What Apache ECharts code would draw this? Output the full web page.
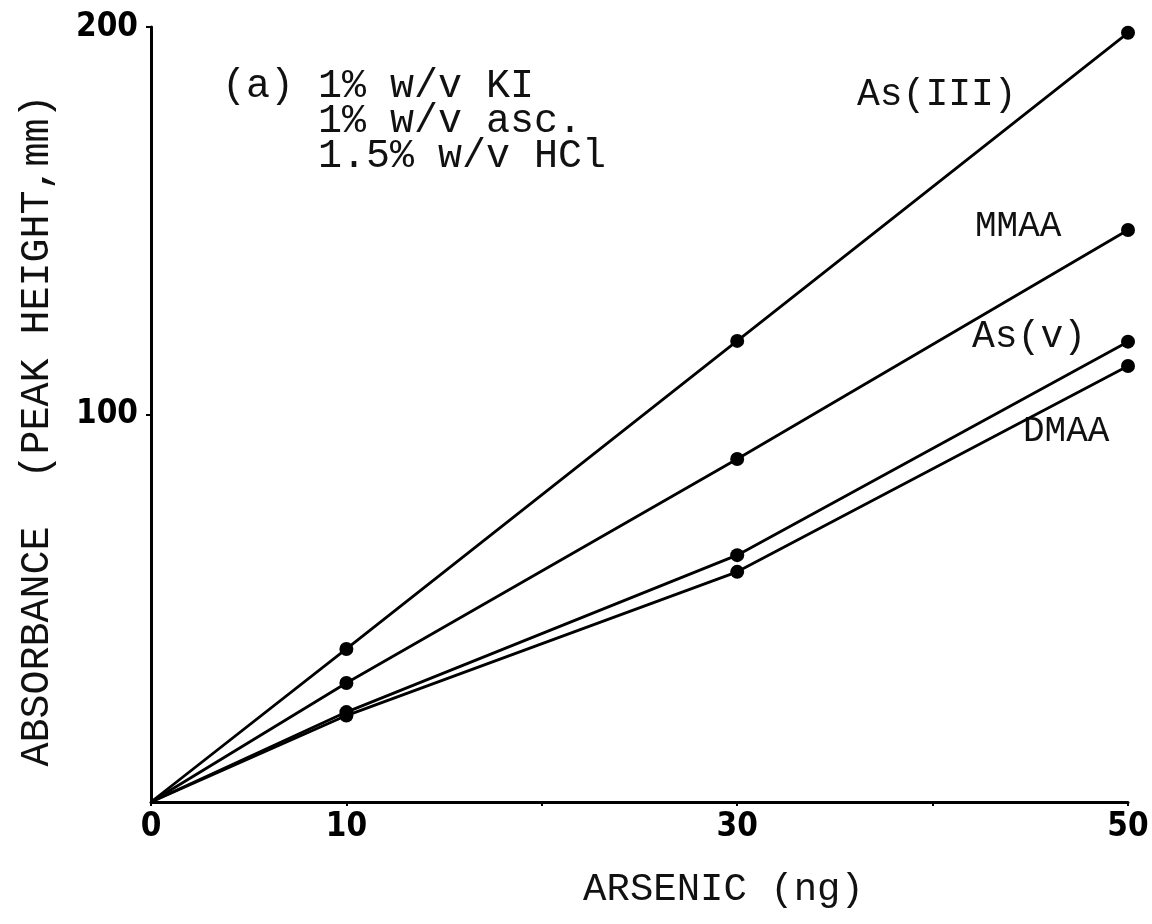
<!DOCTYPE html>
<html>
<head>
<meta charset="utf-8">
<script src="https://cdn.jsdelivr.net/npm/echarts@6/dist/echarts.min.js"></script>
<style>
html,body{margin:0;padding:0;background:#fff;}
#chart{width:1152px;height:924px;}
</style>
</head>
<body>
<div id="chart"></div>
<script>
// ---- data ----
const xValues = [0, 10, 30, 50];
const seriesNames = ['As(III)', 'MMAA', 'As(v)', 'DMAA'];
const asIII = [0, 39.5, 119, 198.5];
const mmaa  = [0, 30.7, 88.5, 147.6];
const asV   = [0, 23.2, 63.7, 118.8];
const dmaa  = [0, 22.3, 59.4, 112.5];
const xTickLabels = [0, 10, 30, 50];
const yTickLabels = [100, 200];
const xTitle = 'ARSENIC (ng)';
const yTitle = 'ABSORBANCE  (PEAK HEIGHT,mm)';
const noteLines = ['(a) 1% w/v KI', '    1% w/v asc.', '    1.5% w/v HCl'];

const mono = "'Liberation Mono', 'DejaVu Sans Mono', monospace";
const narrow = "'Liberation Sans Narrow', 'DejaVu Sans Condensed', 'Liberation Sans', sans-serif";

function pairs(ys) { return xValues.map((x, i) => [x, ys[i]]); }
const allSeries = [asIII, mmaa, asV, dmaa];

const chart = echarts.init(document.getElementById('chart'), null, {renderer: 'canvas'});
const option = {
  animation: false,
  backgroundColor: '#ffffff',
  grid: {left: 151, right: 24, top: 27, bottom: 122, containLabel: false},
  xAxis: {
    type: 'value', min: 0, max: 50, interval: 10,
    name: xTitle, nameLocation: 'middle', nameGap: 68,
    nameTextStyle: {fontFamily: mono, fontSize: 39, color: '#111', padding: [0, 0, 0, 168]},
    axisLine: {show: true, onZero: false, lineStyle: {color: '#000', width: 3}},
    axisTick: {show: true, length: 4, lineStyle: {color: '#000', width: 2}},
    axisLabel: {
      margin: 9, color: '#000', fontFamily: narrow, fontWeight: 'bold', fontSize: 33,
      formatter: v => xTickLabels.indexOf(v) >= 0 ? String(v) : ''
    },
    splitLine: {show: false}
  },
  yAxis: {
    type: 'value', min: 0, max: 200, interval: 100,
    name: yTitle, nameLocation: 'middle', nameGap: 94, nameRotate: 90,
    nameTextStyle: {fontFamily: mono, fontSize: 40, color: '#111', padding: [0, 32, 0, 0]},
    axisLine: {show: true, lineStyle: {color: '#000', width: 3}},
    axisTick: {show: true, length: 5, lineStyle: {color: '#000', width: 2}},
    axisLabel: {
      margin: 13, color: '#000', fontFamily: narrow, fontWeight: 'bold', fontSize: 33,
      showMinLabel: false,
      formatter: v => yTickLabels.indexOf(v) >= 0 ? String(v) : ''
    },
    splitLine: {show: false}
  },
  series: allSeries.map((ys, i) => ({
    name: seriesNames[i],
    type: 'line',
    data: pairs(ys),
    symbol: 'circle',
    symbolSize: (v) => v[0] === 0 ? 0 : 14,
    showAllSymbol: true,
    itemStyle: {color: '#000'},
    lineStyle: {color: '#000', width: 2.8},
    z: 3
  })),
  graphic: [
    {type: 'text', left: 857, top: 76, style: {text: seriesNames[0], font: '38px ' + mono, fill: '#111'}},
    {type: 'text', left: 975, top: 208, style: {text: seriesNames[1], font: '36px ' + mono, fill: '#111'}},
    {type: 'text', left: 972, top: 318, style: {text: seriesNames[2], font: '38px ' + mono, fill: '#111'}},
    {type: 'text', left: 1023, top: 413, style: {text: seriesNames[3], font: '36px ' + mono, fill: '#111'}},
    {type: 'text', left: 222, top: 66, style: {text: noteLines.join('\n'), font: '40px ' + mono, lineHeight: 35, fill: '#111'}}
  ]
};
chart.setOption(option);
</script>
</body>
</html>
